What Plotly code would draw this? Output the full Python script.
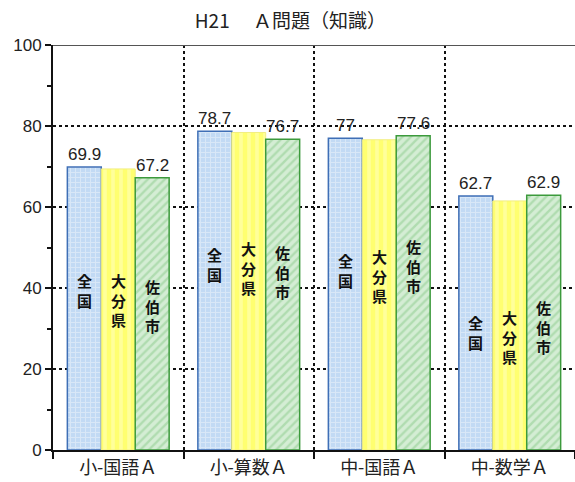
import plotly.graph_objects as go

categories = ["小-国語Ａ", "小-算数Ａ", "中-国語Ａ", "中-数学Ａ"]
series_names = ["全国", "大分県", "佐伯市"]
zenkoku = [69.9, 78.7, 77.0, 62.7]
oita = [69.4, 78.4, 76.6, 61.5]
saiki = [67.2, 76.7, 77.6, 62.9]
show_value = [True, False, True]
y_ticks = [0, 20, 40, 60, 80, 100]
title_text = "H21　 Ａ問題（知識）"

# text label heights (layout only)
name_label_y = [[39.5, 37, 35.5], [45.7, 45, 44], [44.2, 43, 45.4], [29, 28, 30.4]]

FONT = "Liberation Sans, Arial, Noto Sans CJK JP"
JP = "Noto Sans CJK JP, Liberation Sans"

styles = [
    dict(color="#bcd6f2", line=dict(color="#3f6fb6", width=1.5),
         pattern=dict(shape="+", bgcolor="#c2daf4", fgcolor="#eef5fc", size=5, solidity=0.35)),
    dict(color="#ffff8a", line=dict(color="#f2ee80", width=1),
         pattern=dict(shape="|", bgcolor="#ffff70", fgcolor="#ffffc6", size=8, solidity=0.45)),
    dict(color="#cde9cd", line=dict(color="#3c9a3c", width=1.5),
         pattern=dict(shape="/", bgcolor="#d4edd4", fgcolor="#8ccb8c", size=6, solidity=0.4)),
]

fig = go.Figure()
all_series = [zenkoku, oita, saiki]
for name, vals, st in zip(series_names, all_series, styles):
    fig.add_trace(go.Bar(x=categories, y=vals, name=name, marker=st,
                         hoverinfo="skip", showlegend=False))

# annotations
offsets = [-1, 0, 1]
bar_w = 0.78 / 3
for ci, cat in enumerate(categories):
    for si in range(3):
        xpos = ci + offsets[si] * bar_w
        v = all_series[si][ci]
        if show_value[si]:
            txt = f"{v:g}"
            fig.add_annotation(x=xpos, y=v, xref="x", yref="y", text=txt,
                               showarrow=False, yanchor="bottom", yshift=1,
                               font=dict(family=FONT, size=17, color="#222"))
        fig.add_annotation(x=xpos, y=name_label_y[ci][si], xref="x", yref="y",
                           text="<br>".join(list(series_names[si])),
                           showarrow=False, yanchor="middle",
                           font=dict(family=JP, size=15, color="#111", weight="bold"))

fig.add_shape(type="line", xref="paper", yref="y", x0=0, x1=1, y0=100, y1=100,
              line=dict(color="#555", width=2))

fig.update_layout(
    width=575, height=482,
    margin=dict(l=53, r=0, t=45, b=32),
    paper_bgcolor="white", plot_bgcolor="white",
    barmode="group", bargap=0.22, bargroupgap=0,
    title=dict(text=title_text, x=0.505, xanchor="center", y=1 - 21 / 482,
               yanchor="middle", yref="container",
               font=dict(family=JP, size=19, color="#222")),
)
fig.update_xaxes(
    type="category", tickson="boundaries", ticks="outside", ticklen=7,
    tickwidth=2, tickcolor="#111",
    showgrid=True, gridcolor="#111", gridwidth=2, griddash="dot",
    showline=True, linecolor="#111", linewidth=2,
    tickfont=dict(family=JP, size=18, color="#222"),
    range=[-0.5, 3.5],
)
fig.update_yaxes(
    range=[0, 100], tickvals=y_ticks, ticks="outside", ticklen=6,
    tickwidth=2, tickcolor="#111",
    minor=dict(tickvals=[10, 30, 50, 70, 90], ticks="outside", ticklen=4,
               tickwidth=2, tickcolor="#111", showgrid=False),
    showgrid=True, gridcolor="#111", gridwidth=2, griddash="dot",
    showline=True, linecolor="#111", linewidth=2, zeroline=False,
    tickfont=dict(family=FONT, size=17, color="#222"),
)

fig.write_html("out.html")
